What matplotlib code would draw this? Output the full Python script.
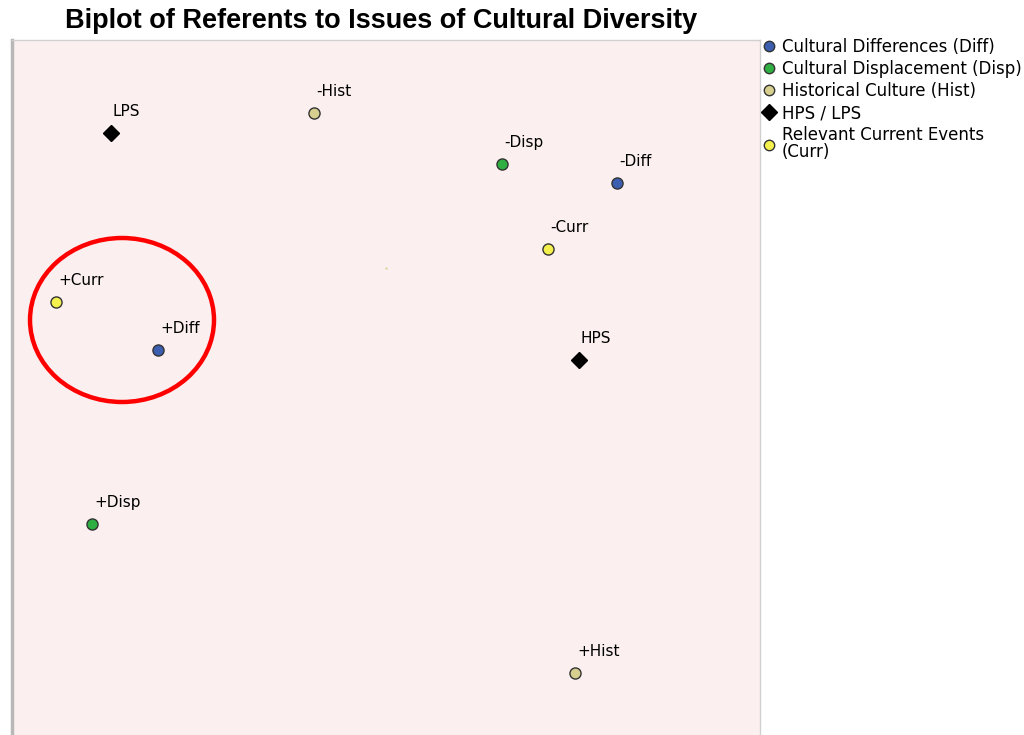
import matplotlib.pyplot as plt
from matplotlib.lines import Line2D
from matplotlib.patches import Ellipse

plt.rcParams['font.family'] = ['DejaVu Sans']

# biplot coordinates (arbitrary units, origin at centre)
labels = ['LPS', '-Hist', '-Disp', '-Diff', '-Curr', '+Curr', '+Diff', 'HPS', '+Disp', '+Hist']
x_vals = [-2.75, -0.72, 1.16, 2.31, 1.62, -3.30, -2.28, 1.93, -2.94, 1.89]
y_vals = [1.35, 1.55, 1.04, 0.85, 0.19, -0.34, -0.82, -0.92, -2.56, -4.05]
groups = ['PS', 'Hist', 'Disp', 'Diff', 'Curr', 'Curr', 'Diff', 'PS', 'Disp', 'Hist']

group_names = ['Diff', 'Disp', 'Hist', 'PS', 'Curr']
legend_labels = ['Cultural Differences (Diff)', 'Cultural Displacement (Disp)',
                 'Historical Culture (Hist)', 'HPS / LPS',
                 'Relevant Current Events\n(Curr)']
colors = {'Diff': '#3b5eb0', 'Disp': '#2fae42', 'Hist': '#d6cf8f',
          'PS': 'black', 'Curr': '#f4f04e'}
markers = {'Diff': 'o', 'Disp': 'o', 'Hist': 'o', 'PS': 'D', 'Curr': 'o'}

fig = plt.figure(figsize=(10.24, 7.35), dpi=100)
ax = fig.add_axes([12 / 1024, 0, 748 / 1024, 695 / 735])
ax.set_facecolor('#fbf0ef')
ax.set_xlim(-3.74, 3.74)
ax.set_ylim(-4.67, 2.28)
ax.set_xticks([])
ax.set_yticks([])
for side in ['top', 'right']:
    ax.spines[side].set_color('#d0d0d0')
    ax.spines[side].set_linewidth(1)
ax.spines['left'].set_color('#b8b8b8')
ax.spines['left'].set_linewidth(2.5)
ax.spines['bottom'].set_visible(False)

# origin marker
ax.plot(0, 0, 's', ms=1.5, color='#d6cf8f', mec='none')

for lab, x, y, g in zip(labels, x_vals, y_vals, groups):
    if markers[g] == 'D':
        ax.plot(x, y, 'D', ms=8.5, color='black', mec='black', zorder=3)
    else:
        ax.plot(x, y, 'o', ms=8, color=colors[g], mec='#333333', mew=1, zorder=3)
    ax.annotate(lab, (x, y), xytext=(2, 21), textcoords='offset pixels',
                ha='left', va='center', fontsize=11)

ax.add_patch(Ellipse((-2.64, -0.52), 1.84, 1.64, fill=False,
                     edgecolor='red', linewidth=3.2))

fig.text(381 / 1024, 1 - 21 / 735, 'Biplot of Referents to Issues of Cultural Diversity',
         ha='center', va='center', fontsize=19.5, fontweight='bold',
         family=['Liberation Sans', 'DejaVu Sans'])

handles = []
for g in group_names:
    if markers[g] == 'D':
        handles.append(Line2D([], [], ls='none', marker='D', ms=8.5, color='black'))
    else:
        handles.append(Line2D([], [], ls='none', marker='o', ms=7.5,
                              color=colors[g], mec='#333333', mew=1))
leg = fig.legend(handles, legend_labels, loc='upper left',
                 bbox_to_anchor=(759 / 1024, 1 - 38 / 735),
                 frameon=False, fontsize=12, handletextpad=0.15, handlelength=1.2,
                 labelspacing=0.24, borderaxespad=0, borderpad=0)
for t in leg.get_texts():
    t.set_linespacing(0.95)

fig.savefig('out.png', dpi=100)
